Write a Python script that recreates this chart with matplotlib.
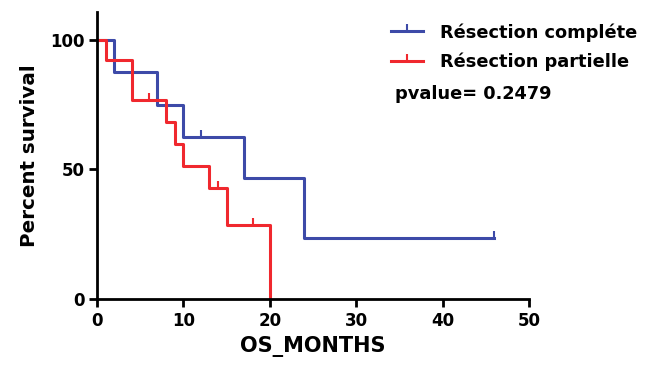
import matplotlib
matplotlib.use("Agg")
import matplotlib.pyplot as plt
from matplotlib.lines import Line2D

plt.rcParams["font.family"] = ["DejaVu Sans"]
plt.rcParams["font.weight"] = "bold"

# Kaplan-Meier step data
comp_t = [0, 2, 7, 10, 17, 24, 46]
comp_s = [100, 87.5, 75, 62.5, 46.9, 23.4, 23.4]
comp_cens_t = [12, 46]
comp_cens_s = [62.5, 23.4]

part_t = [0, 1, 4, 8, 9, 10, 13, 15, 20]
part_s = [100, 92.3, 76.9, 68.4, 59.8, 51.3, 42.7, 28.5, 0]
part_cens_t = [6, 14, 18]
part_cens_s = [76.9, 42.7, 28.5]

labels = ["Résection compléte", "Résection partielle"]
pvalue = "0.2479"
BLUE, RED = "#3d4aa8", "#f0282e"

fig = plt.figure(figsize=(6.54, 3.65), dpi=100)
ax = fig.add_axes([97/654, 66/365, 432/654, 287/365])

ax.step(comp_t, comp_s, where="post", color=BLUE, lw=2.2)
ax.step(part_t, part_s, where="post", color=RED, lw=2.2)
ax.plot(comp_cens_t, comp_cens_s, ls="none", marker=2, ms=5, mew=1.5, color=BLUE)
ax.plot(part_cens_t, part_cens_s, ls="none", marker=2, ms=5, mew=1.5, color=RED)

ax.set_xlim(0, 50)
ax.set_ylim(0, 110.8)
ax.set_xticks([0, 10, 20, 30, 40, 50])
ax.set_yticks([0, 50, 100])
for s in ["top", "right"]:
    ax.spines[s].set_visible(False)
for s in ["left", "bottom"]:
    ax.spines[s].set_linewidth(2)
ax.tick_params(width=2, length=6, labelsize=12, pad=3)
for lab in ax.get_xticklabels() + ax.get_yticklabels():
    lab.set_fontweight("bold")
ax.set_xlabel("OS_MONTHS", fontsize=15, fontweight="bold", labelpad=5)
ax.set_ylabel("Percent survival", fontsize=14.3, fontweight="bold", labelpad=8)

handles = [Line2D([], [], color=BLUE, lw=2.2, marker=2, ms=5, mew=1.5),
           Line2D([], [], color=RED, lw=2.2, marker=2, ms=5, mew=1.5)]
fig.legend(handles, labels, loc="upper left", bbox_to_anchor=(391/654, 1 - 23/365),
           frameon=False, handlelength=1.8, handletextpad=0.95, borderpad=0,
           borderaxespad=0, labelspacing=0.62, prop={"weight": "bold", "size": 12.8})
fig.text(395/654, 1 - 94/365, "pvalue= " + pvalue, fontsize=12.8, fontweight="bold",
         va="center", ha="left")

fig.savefig("out.png", dpi=100)
